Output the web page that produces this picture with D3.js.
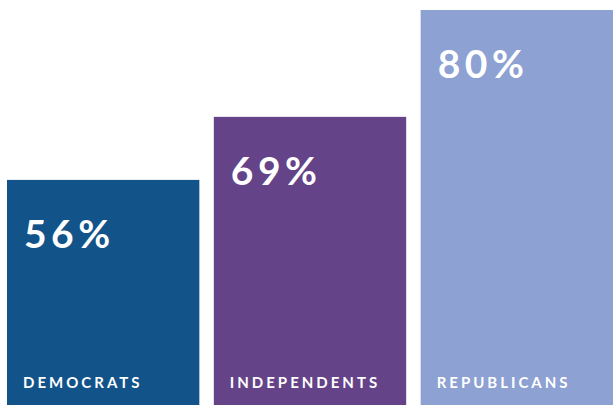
<!DOCTYPE html>
<html>
<head>
<meta charset="utf-8">
<script src="https://cdn.jsdelivr.net/npm/d3@7"></script>
<style>
  body { margin: 0; background: #fff; }
  svg { display: block; }
  .value { font-family: Lato, sans-serif; font-weight: 700; fill: #fff; }
  .cat { font-family: Lato, sans-serif; font-weight: 700; fill: #fff; }
</style>
</head>
<body>
<svg id="chart"></svg>
<script>
var categories = ["DEMOCRATS", "INDEPENDENTS", "REPUBLICANS"];
var values = [56, 69, 80];
var colors = ["#12538a", "#654389", "#8da1d2"];

var width = 613, height = 405;

var svg = d3.select("#chart").attr("width", width).attr("height", height);

var x = d3.scaleBand()
  .domain(categories)
  .range([7, width])
  .paddingInner(0.07)
  .paddingOuter(0);

// the original bars are stretched, so the scale is piecewise
var y = d3.scaleLinear()
  .domain([50, 70, 80])
  .range([209, 112, 10]);

var color = d3.scaleOrdinal().domain(categories).range(colors);

var bars = svg.selectAll("g.bar")
  .data(categories)
  .enter()
  .append("g")
  .attr("class", "bar");

bars.append("rect")
  .attr("x", function(d){ return x(d); })
  .attr("y", function(d, i){ return y(values[i]); })
  .attr("width", x.bandwidth())
  .attr("height", function(d, i){ return height - y(values[i]); })
  .style("fill", function(d){ return color(d); });

bars.append("text")
  .attr("class", "value")
  .attr("x", function(d){ return x(d) + 17; })
  .attr("y", function(d, i){ return y(values[i]) + 68; })
  .style("font-size", "39px")
  .style("letter-spacing", "4.5px")
  .text(function(d, i){ return values[i] + "%"; });

bars.append("text")
  .attr("class", "cat")
  .attr("x", function(d){ return x(d) + 16; })
  .attr("y", 388)
  .style("font-size", "15px")
  .style("letter-spacing", "3px")
  .text(function(d){ return d; });
</script>
</body>
</html>
